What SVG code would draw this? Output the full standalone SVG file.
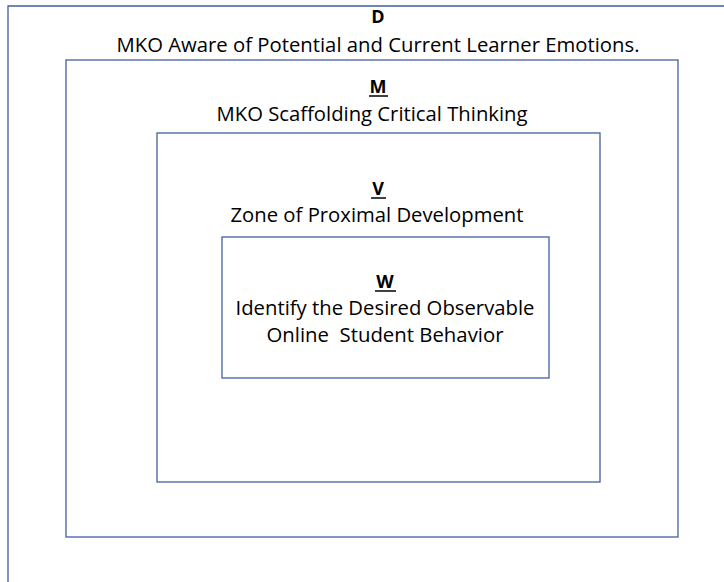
<svg xmlns="http://www.w3.org/2000/svg" width="724" height="582" viewBox="0 0 724 582">
<style>
.box{fill:none;stroke:#41609f;stroke-width:1.3}
.t{font-family:"Open Sans","Liberation Sans",sans-serif;font-size:20.5px;fill:#000;text-anchor:middle}
.h{font-family:"Open Sans","Liberation Sans",sans-serif;font-size:18px;font-weight:bold;fill:#000;text-anchor:middle}
.u{stroke:#000;stroke-width:1.5}
</style>
<rect width="724" height="582" fill="#fff"/>
<g id="D">
<path class="box" d="M8,590 V6 H740"/>
<text class="h" x="378" y="23">D</text>
<text class="t" x="378" y="52" textLength="523" lengthAdjust="spacingAndGlyphs">MKO Aware of Potential and Current Learner Emotions.</text>
</g>
<g id="M">
<rect class="box" x="66" y="60" width="612" height="477"/>
<text class="h" x="378" y="93">M</text>
<line class="u" x1="369" y1="96" x2="388" y2="96"/>
<text class="t" x="372" y="121" textLength="311" lengthAdjust="spacingAndGlyphs">MKO Scaffolding Critical Thinking</text>
</g>
<g id="V">
<rect class="box" x="157" y="133" width="443" height="349"/>
<text class="h" x="378" y="195">V</text>
<line class="u" x1="371" y1="198" x2="386" y2="198"/>
<text class="t" x="377" y="222" textLength="293" lengthAdjust="spacingAndGlyphs">Zone of Proximal Development</text>
</g>
<g id="W">
<rect class="box" x="222" y="237" width="327" height="141"/>
<text class="h" x="385" y="288">W</text>
<line class="u" x1="375" y1="291" x2="396" y2="291"/>
<text class="t" x="385" y="315" textLength="299" lengthAdjust="spacingAndGlyphs">Identify the Desired Observable</text>
<text class="t" x="385" y="342" textLength="237" lengthAdjust="spacingAndGlyphs" xml:space="preserve">Online  Student Behavior</text>
</g>
<g id="connectors"/>
</svg>
